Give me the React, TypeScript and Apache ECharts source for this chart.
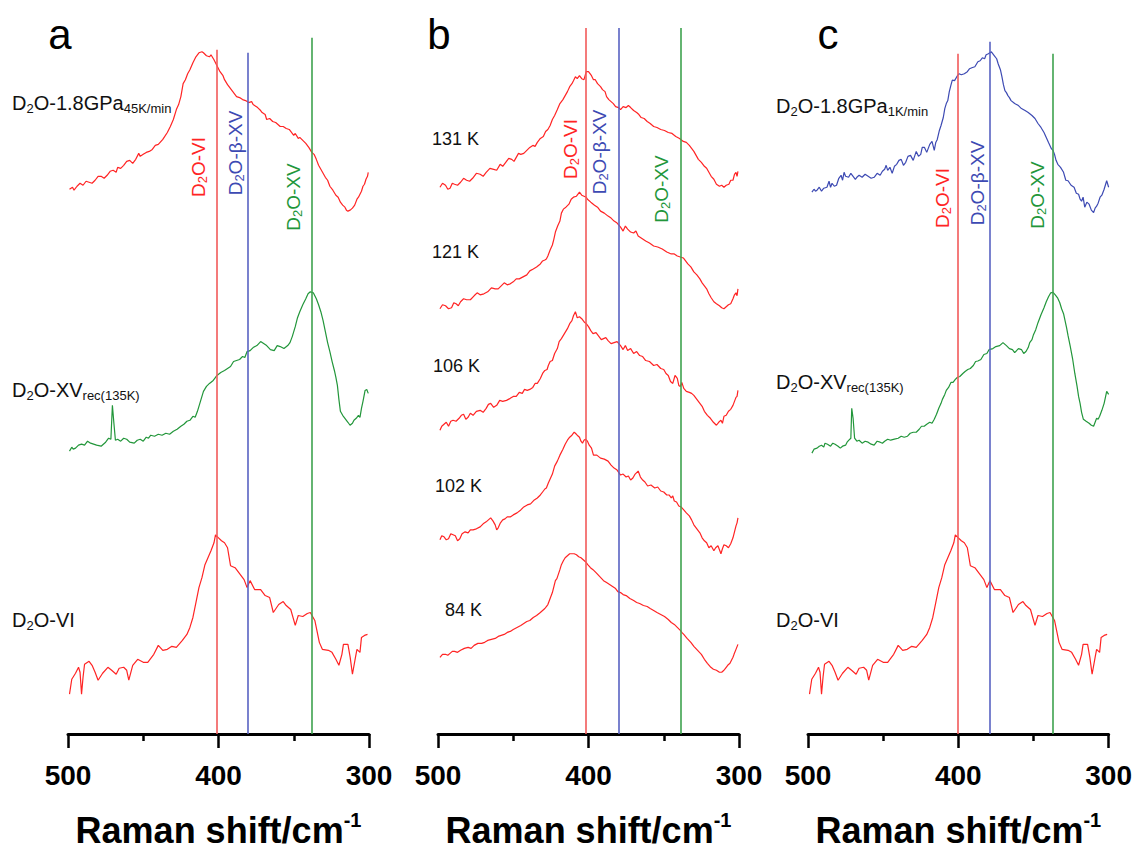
import React, { useEffect, useRef } from "react";
import * as echarts from "echarts";

// Raman shift (cm-1) vs intensity (a.u., stacked with offsets)
const a_GPa45: [number, number][] = [
  [499, 54.7], [497, 54.9], [496, 54.6], [494, 55.0], [492, 55.3], [490, 55.1], [488, 55.5], [486, 55.4],
  [484, 55.3], [482, 55.6], [480, 56.0], [478, 56.0], [476, 55.8], [474, 56.1], [472, 56.5], [470, 56.6],
  [468, 56.4], [467, 56.9], [465, 56.8], [463, 57.1], [461, 57.5], [459, 57.6], [457, 57.3], [455, 57.7],
  [453, 58.3], [452, 58.0], [450, 58.2], [448, 58.4], [446, 58.5], [444, 58.7], [442, 59.1], [440, 59.2],
  [437, 59.7], [434, 60.4], [432, 61.0], [430, 61.7], [428, 62.7], [426.5, 63.2], [425, 64.0], [423.5, 65.3],
  [422, 65.7], [420.5, 66.3], [419, 66.7], [417, 67.4], [415, 68.0], [413, 68.4], [411, 68.5], [410, 68.4],
  [408, 68.1], [406, 68.0], [405, 68.2], [403, 67.7], [401, 67.1], [399, 66.5], [397, 66.1], [396, 65.7],
  [394, 65.2], [391, 64.6], [388, 64.0], [386, 63.9], [384, 63.7], [382, 63.6], [380, 63.4], [378, 63.5],
  [377, 63.2], [375, 63.0], [374, 62.9], [372, 62.6], [371, 62.4], [369, 62.2], [368, 61.7], [366, 61.8],
  [364, 61.5], [362, 61.4], [359, 61.0], [357, 61.0], [355, 60.8], [353, 60.7], [352, 60.5], [350, 60.1],
  [349, 60.3], [347, 59.8], [346, 59.9], [344, 59.6], [342, 59.3], [340, 58.9], [338, 58.4], [336.5, 58.2],
  [335, 57.7], [333.5, 57.1], [332, 56.7], [330.5, 56.3], [329, 55.9], [327.5, 55.6], [326, 55.0],
  [324, 54.6], [322, 54.1], [320.5, 53.9], [319, 53.4], [317.5, 53.1], [316, 52.9], [315, 52.6], [314, 52.5],
  [312.5, 52.6], [311, 52.8], [309.5, 53.1], [308, 53.7], [307, 53.9], [306, 54.2], [305, 54.5], [304, 55.0],
  [303, 55.2], [302, 55.7], [301, 56.0], [300.5, 56.4],
];
const a_XVrec: [number, number][] = [
  [499, 28.4], [497.5, 28.8], [496.5, 28.6], [495, 28.7], [493, 29.0], [491, 29.1], [489, 29.0], [487, 29.4],
  [485, 29.2], [483, 29.1], [481, 29.0], [478, 28.9], [476.5, 29.1], [475, 29.3], [473, 29.7], [471.5, 29.6],
  [470.5, 33.0], [469.5, 31.2], [468.5, 29.5], [467, 29.6], [465, 29.4], [463, 29.7], [461, 29.6], [459, 29.3],
  [456, 29.2], [454, 29.5], [452, 29.6], [450, 29.4], [448, 29.8], [446.5, 29.7], [445, 30.0], [442.5, 29.9],
  [440, 30.1], [437.5, 30.0], [435, 30.2], [432.5, 30.1], [430, 30.4], [427.5, 30.6], [425, 30.9], [423, 31.1],
  [421, 31.4], [419, 31.5], [417, 31.9], [415.5, 31.8], [414, 32.4], [412, 33.4], [410, 34.4], [408, 34.9],
  [406, 35.2], [403.5, 35.5], [401, 36.0], [398.5, 36.3], [396, 36.5], [394, 36.7], [392, 36.9], [390, 37.4],
  [388, 37.5], [386, 37.6], [384, 37.9], [382.5, 37.8], [381, 38.4], [379, 38.5], [377, 38.8], [374.5, 39.0],
  [372, 39.4], [370, 39.2], [368, 39.0], [365.5, 38.6], [363, 38.5], [361, 39.0], [359, 38.9], [356.5, 38.7],
  [354, 39.0], [352.5, 39.3], [351, 39.9], [349, 40.9], [347.5, 41.8], [346, 42.4], [344, 43.1], [342, 43.7],
  [340.5, 44.2], [339, 44.4], [337, 44.3], [335, 43.7], [333.5, 43.1], [332, 42.4], [330.5, 41.5], [329, 40.4],
  [327.5, 39.3], [326, 38.4], [324.5, 37.4], [323, 36.5], [322, 35.8], [321, 35.0], [320, 33.6], [319, 32.4],
  [317.5, 32.0], [316, 31.7], [314, 31.3], [312.6, 31.0], [311, 31.2], [310, 31.5], [308.5, 31.7], [307, 32.0],
  [306, 31.8], [305, 32.7], [304, 33.4], [302.6, 34.5], [301.5, 34.6], [300.5, 34.2],
];
const VI_spec: [number, number][] = [
  [499, 4.0], [497.5, 5.5], [495, 6.1], [493, 6.7], [492, 6.2], [491, 4.0], [490, 5.7], [489, 7.0],
  [486, 7.3], [484, 6.9], [482, 6.2], [480, 5.4], [477, 6.1], [473.5, 6.7], [471, 6.4], [468, 6.0],
  [466, 6.6], [463, 6.7], [461, 6.4], [459.6, 5.4], [457, 6.9], [453.7, 7.5], [450, 7.2], [447, 7.2],
  [443, 8.0], [440, 8.9], [437, 8.4], [434, 8.5], [431, 8.8], [428, 8.7], [424, 9.4], [421, 10.0],
  [419, 10.7], [417, 11.7], [415, 13.2], [413, 14.7], [411, 15.7], [409, 17.0], [407, 17.7], [405, 18.4],
  [403, 19.2], [402, 20.0], [400, 19.7], [398, 19.4], [396, 19.2], [394, 18.7], [392, 16.9], [389, 16.7],
  [385.5, 16.0], [383, 15.5], [381, 14.7], [379, 15.4], [376, 14.5], [372, 14.5], [369, 13.9], [366, 13.7],
  [363.6, 12.2], [360, 13.0], [357, 13.3], [355, 12.9], [352, 12.5], [349, 10.9], [347, 11.9], [344, 11.8],
  [341, 12.1], [339, 12.2], [336, 11.4], [333, 9.2], [331, 8.5], [327, 8.4], [324.6, 8.2], [322, 7.5],
  [320, 6.9], [318, 8.0], [317, 9.0], [314, 9.0], [312.5, 7.7], [311, 6.0], [309, 7.7], [308, 8.5],
  [306, 8.2], [305, 9.7], [303, 9.9], [301, 10.0],
];
const b_131K: [number, number][] = [
  [498.7, 54.9], [497, 55.3], [495, 55.1], [493.5, 54.7], [492, 54.8], [490.5, 55.3], [489, 55.2], [487, 55.1],
  [485, 55.4], [483, 55.8], [481, 55.6], [479, 55.5], [477, 55.8], [474.5, 56.3], [472, 56.2], [470, 56.0],
  [468, 56.4], [465.5, 56.8], [463, 56.7], [461, 56.6], [458.7, 57.2], [457, 57.0], [455, 57.4], [453, 57.8],
  [451, 57.7], [449.5, 57.5], [448, 57.9], [446.5, 58.3], [445, 58.2], [443, 58.3], [441, 58.6], [439, 58.9],
  [437, 59.1], [435.5, 59.0], [434, 59.4], [432, 59.8], [430, 60.0], [428.5, 60.5], [427, 60.7], [425.5, 61.1],
  [424, 61.7], [422.5, 62.1], [420.7, 62.7], [419, 63.3], [417, 63.7], [415.5, 64.1], [414, 64.5], [412.5, 65.0],
  [411, 65.3], [410, 65.6], [408.7, 66.0], [407.5, 65.8], [406, 66.1], [404.5, 65.8], [403, 65.7], [401.5, 66.5],
  [400, 66.5], [398, 66.1], [396.7, 65.7], [395.5, 65.7], [394, 65.3], [392, 65.0], [390.7, 64.7], [389, 64.5],
  [388, 64.0], [386.5, 63.7], [385, 63.5], [383.5, 63.3], [382, 63.0], [380, 62.9], [378.7, 62.7], [377, 63.0],
  [375, 62.9], [373.5, 63.1], [372, 62.9], [370, 62.6], [368, 62.4], [366.5, 62.2], [365, 61.9], [363, 61.8],
  [361, 61.5], [359, 61.3], [356.7, 61.0], [354.5, 60.9], [352, 60.7], [349.5, 60.6], [347, 60.4], [344.5, 60.3],
  [342, 60.0], [339.5, 59.8], [337, 59.5], [335, 59.4], [333, 59.1], [331.5, 58.8], [330, 58.5], [328.5, 58.1],
  [327, 57.7], [325, 57.4], [323, 57.0], [321.5, 56.8], [320, 56.4], [318.5, 56.0], [316.7, 55.7], [315, 55.2],
  [313, 55.0], [311.5, 55.1], [310, 54.9], [308.5, 55.1], [306.7, 55.2], [305.5, 55.6], [304, 55.6], [303, 56.2],
  [302, 56.4], [301.3, 56.0], [300.7, 56.5],
];
const b_121K: [number, number][] = [
  [498.7, 42.7], [497, 43.1], [495, 43.0], [493, 42.7], [491, 42.8], [489.5, 43.3], [488, 43.2], [486.5, 43.0],
  [485, 43.4], [483, 43.7], [481, 43.6], [478.5, 43.6], [476, 44.0], [474, 44.3], [472, 44.1], [469.5, 44.2],
  [467, 44.4], [464.5, 44.8], [462, 44.7], [460, 44.7], [458, 45.0], [456, 45.3], [454, 45.1], [452, 45.2],
  [450, 45.4], [448, 45.7], [446, 45.7], [443.5, 45.9], [441, 46.1], [439, 46.5], [436.7, 46.7], [434.5, 46.9],
  [432, 47.2], [430.5, 47.5], [429, 47.6], [428, 47.7], [427, 48.0], [425.5, 48.6], [424, 49.1], [423, 49.7],
  [422, 50.4], [420.5, 51.0], [419, 51.5], [418, 52.3], [416.7, 52.7], [415, 52.9], [413, 53.2], [411.5, 53.7],
  [410, 53.9], [408, 54.0], [406, 54.4], [404.5, 54.1], [403, 54.0], [401.5, 53.9], [400.7, 53.7], [398.5, 53.4],
  [396, 53.1], [394, 52.9], [392, 52.5], [389.5, 52.3], [387, 52.0], [385, 51.8], [383, 51.5], [381, 51.3],
  [378.7, 50.9], [377, 50.5], [375.5, 51.0], [374, 50.7], [372, 50.4], [370, 50.3], [368.5, 50.5], [367, 50.0],
  [365, 49.8], [362, 49.5], [359.5, 49.3], [356.7, 49.0], [354, 48.9], [351, 48.7], [348, 48.4], [345, 48.2],
  [343, 48.2], [341, 48.0], [339, 47.9], [337, 47.8], [335.5, 47.5], [334, 47.2], [332, 46.9], [330, 46.4],
  [328, 46.1], [326, 45.7], [324.5, 45.3], [323, 45.0], [321.5, 44.7], [320, 44.2], [318.5, 43.8], [316.7, 43.4],
  [315, 43.2], [313, 43.0], [311.5, 42.8], [310, 42.7], [308.5, 42.9], [307, 43.1], [305.5, 43.2], [304, 43.7],
  [303, 44.1], [302, 44.3], [301.3, 44.0], [300.7, 44.7],
];
const b_106K: [number, number][] = [
  [498.7, 30.5], [497.5, 30.9], [496, 31.1], [494.5, 31.3], [493, 30.9], [491.5, 31.4], [490, 31.5], [488, 31.4],
  [486, 31.7], [484.5, 32.0], [483, 32.1], [481.5, 31.6], [480, 31.8], [478.5, 32.2], [476.7, 32.0], [474.5, 32.4],
  [472, 32.5], [470, 32.3], [468, 32.7], [466.5, 33.1], [465, 33.2], [463, 32.8], [461, 33.0], [459, 33.5],
  [457, 33.4], [454.5, 33.5], [452, 33.7], [450, 33.9], [448, 33.9], [446, 34.3], [444, 34.2], [442.5, 34.6],
  [440.7, 34.5], [439, 34.6], [437, 34.8], [435.5, 35.2], [434, 35.2], [432, 35.7], [430.5, 36.2], [429, 36.5],
  [427.5, 36.6], [426.7, 37.0], [425.5, 37.4], [424, 37.5], [422.5, 38.2], [420.7, 38.7], [419.5, 39.4],
  [418, 39.7], [416, 40.2], [414, 40.7], [412.5, 41.2], [411, 41.5], [410, 42.0], [408.7, 42.4], [407.5, 41.8],
  [406, 41.9], [404.5, 41.7], [403, 41.4], [401.5, 41.2], [400, 40.9], [398.5, 40.5], [397, 40.2], [395, 40.3],
  [393, 39.9], [391.5, 39.6], [390, 39.7], [388.5, 39.8], [387, 39.5], [385, 39.2], [383, 39.3], [381, 39.4],
  [378.7, 39.0], [377, 38.6], [375.5, 39.0], [374, 38.5], [372, 38.7], [370, 38.2], [368, 38.4], [366, 38.0],
  [364, 37.9], [362, 37.5], [359.5, 37.4], [356.7, 37.0], [354.5, 37.1], [352, 36.7], [350, 36.6], [348.5, 36.2],
  [347, 36.0], [345.5, 35.4], [344, 35.2], [342.5, 36.0], [341, 35.7], [340, 35.0], [339, 34.9], [338, 35.3],
  [336.7, 34.7], [335, 34.4], [333, 34.3], [331.5, 34.2], [330, 34.0], [328, 33.6], [326, 33.2], [324.5, 32.9],
  [323, 32.4], [321, 32.0], [319, 31.7], [317, 31.3], [315, 31.0], [313.5, 31.3], [312, 31.5], [311, 31.2],
  [310, 31.9], [308.5, 32.0], [307, 32.4], [305.5, 32.6], [304, 33.0], [303, 33.4], [302, 33.8], [301.3, 33.9],
  [300.7, 34.5],
];
const b_102K: [number, number][] = [
  [498.7, 19.5], [497.5, 19.9], [496, 19.8], [494.5, 19.5], [493, 19.6], [491.5, 20.1], [490, 20.0], [488.5, 19.9],
  [487, 19.4], [485.5, 19.6], [484, 20.1], [482, 20.3], [480, 20.2], [478.5, 20.5], [476.7, 20.5], [474.5, 20.6],
  [472, 20.8], [470, 21.1], [468, 21.3], [466.5, 21.5], [465, 21.7], [463.5, 21.4], [462, 21.0], [461, 20.5],
  [460, 20.7], [458.5, 21.2], [457, 21.5], [455.5, 21.6], [454, 21.8], [452, 21.8], [450, 22.0], [447.5, 22.2],
  [445, 22.5], [443, 22.8], [440.7, 23.0], [438.5, 23.1], [436, 23.5], [434, 23.7], [432, 24.0], [430.5, 24.3],
  [429, 24.6], [428, 24.7], [426.7, 25.2], [425.5, 25.6], [424, 26.1], [422.5, 26.9], [420.7, 27.4], [419, 28.0],
  [417, 28.6], [415.5, 29.1], [414, 29.5], [412.5, 29.8], [411, 30.0], [409.5, 30.3], [408.7, 30.2], [407.5, 30.0],
  [406, 29.8], [405, 29.4], [404, 29.2], [403, 29.5], [402, 29.6], [400.7, 29.4], [399.5, 29.0], [398, 28.7],
  [396.7, 28.0], [394.5, 28.0], [392, 27.7], [389.5, 27.6], [387, 27.4], [385, 27.0], [383, 26.7], [381, 26.5],
  [378.7, 26.0], [377, 26.1], [375, 25.8], [373.5, 25.9], [372, 25.5], [370.5, 25.7], [369, 26.1], [367, 26.4],
  [365.5, 25.8], [364, 25.5], [362.5, 25.3], [360.7, 24.9], [358.5, 25.0], [356, 24.7], [354, 24.8], [352, 24.4],
  [350, 24.3], [348, 24.0], [346.5, 24.0], [345, 23.7], [344, 23.9], [343, 23.4], [341.5, 23.3], [340, 22.9],
  [338.5, 22.8], [336.7, 22.5], [335, 22.2], [333, 21.9], [331.5, 21.5], [330, 21.0], [328, 20.6], [326, 20.2],
  [324.5, 19.7], [323, 19.4], [321.5, 19.2], [320, 18.7], [318.5, 18.9], [316.7, 18.4], [315.5, 18.7], [314, 18.9],
  [313, 18.5], [312, 18.1], [311, 18.6], [310, 19.0], [308.5, 18.9], [307, 18.7], [305.5, 19.1], [304, 19.7],
  [303, 20.3], [302, 20.9], [301.3, 21.2], [300.7, 21.7],
];
const b_84K: [number, number][] = [
  [498.7, 7.7], [497, 8.0], [495, 8.0], [493.5, 7.9], [492, 8.1], [490.5, 8.3], [489, 8.3], [487, 8.2],
  [485, 8.4], [482.5, 8.6], [480, 8.7], [478, 8.6], [476, 8.9], [473.5, 9.1], [471, 9.1], [469, 9.2],
  [467, 9.4], [464.5, 9.5], [462, 9.6], [460, 9.8], [458, 9.9], [456, 10.0], [454, 10.2], [452, 10.3],
  [450, 10.5], [447.5, 10.7], [445, 10.9], [443, 11.1], [441, 11.3], [439, 11.4], [436.7, 11.7], [434.5, 11.9],
  [432, 12.2], [430.5, 12.4], [429, 12.6], [428, 12.8], [427, 13.0], [425.5, 13.6], [424, 14.2], [423, 14.8],
  [422, 15.4], [421, 15.6], [419, 16.5], [418, 17.0], [416.7, 17.4], [415.5, 17.7], [414, 17.9], [412.5, 18.1],
  [410.7, 18.1], [409.5, 18.1], [408, 18.0], [406.5, 17.8], [405, 17.7], [403.5, 17.5], [402, 17.3], [400.5, 17.0],
  [398.7, 16.7], [397, 16.5], [395, 16.2], [392.5, 15.8], [390, 15.4], [388, 15.2], [386, 15.0], [384, 14.8],
  [382, 14.6], [380.5, 14.3], [378.7, 14.2], [377, 14.0], [375, 13.9], [372.5, 13.6], [370, 13.4], [368, 13.2],
  [366, 13.1], [363.5, 12.9], [361, 12.8], [359, 12.6], [356.7, 12.4], [354.5, 12.2], [352, 12.0], [349.5, 11.8],
  [347, 11.5], [345, 11.2], [343, 11.0], [341, 10.7], [339, 10.4], [338, 10.2], [336.7, 10.0], [334.5, 9.6],
  [332, 9.2], [330, 8.8], [327.5, 8.4], [325, 8.0], [323, 7.5], [321, 7.1], [318.7, 6.7], [317, 6.5],
  [315, 6.4], [314, 6.3], [313, 6.2], [311.5, 6.2], [310, 6.4], [309, 6.6], [307.5, 6.9], [306, 7.1],
  [305, 7.4], [304, 7.7], [303.3, 8.0], [302, 8.5], [300.7, 9.0],
];
const c_GPa1: [number, number][] = [
  [497.4, 54.4], [496, 54.7], [495, 54.5], [494, 54.6], [492.5, 54.9], [491, 54.5], [489.5, 54.8], [487.4, 54.9],
  [486, 55.5], [485, 54.9], [484, 55.3], [482.5, 55.0], [481, 55.1], [479.5, 55.8], [478, 56.1], [477, 55.6],
  [476, 56.4], [475, 56.0], [473, 55.9], [471.5, 56.3], [470, 56.0], [468.5, 55.7], [467.5, 55.9], [466, 56.1],
  [464, 55.9], [462, 56.2], [460, 56.0], [458, 55.8], [456, 55.9], [454, 56.3], [452, 56.1], [450.5, 56.5],
  [449, 56.7], [448, 57.1], [447, 56.6], [445.5, 56.9], [444, 56.3], [442.5, 57.0], [441, 57.2], [439.5, 57.6],
  [438, 57.7], [436.5, 57.1], [435, 57.4], [433.5, 58.0], [431.8, 58.1], [430, 57.6], [428, 58.5], [426.5, 58.0],
  [425, 58.2], [424, 58.9], [422.5, 58.9], [421, 58.4], [419, 59.2], [417.5, 59.5], [416, 58.6], [415, 59.4],
  [414, 59.7], [412.6, 60.6], [411.5, 61.1], [410, 61.9], [409, 62.8], [408, 63.3], [407, 63.6], [406, 64.5],
  [405, 65.1], [404, 65.65], [402.5, 65.6], [401, 66.0], [399.5, 66.3], [398, 66.2], [396, 66.3], [394, 66.5],
  [392.5, 66.8], [391, 66.9], [389, 67.0], [387, 67.5], [385.5, 67.6], [384, 67.9], [382.5, 67.8], [381.5, 68.2],
  [380, 68.3], [378, 68.5], [376, 68.1], [374.5, 67.8], [373.5, 67.3], [372, 66.7], [371, 66.0], [370, 65.2],
  [369, 64.6], [368, 64.4], [367, 64.1], [366, 63.9], [364.9, 63.6], [362.5, 63.3], [360, 63.1], [358, 62.8],
  [355.6, 62.6], [353.5, 62.4], [351, 62.1], [349, 61.8], [347, 61.3], [345, 60.9], [343, 60.4], [341.5, 59.9],
  [340, 59.4], [338, 58.75], [337, 58.6], [336, 58.2], [335, 57.6], [333.8, 57.2], [332, 56.9], [330, 56.4],
  [328.5, 55.6], [327, 55.55], [325, 55.1], [323, 54.9], [321.5, 54.3], [320, 54.2], [319, 53.7], [318, 53.5],
  [317, 53.9], [315.9, 52.9], [314.5, 53.4], [313, 53.2], [311.5, 52.6], [310, 52.35], [309, 52.8], [308, 53.0],
  [307, 53.3], [305.7, 53.9], [304.5, 54.1], [303, 54.7], [302, 55.2], [301.3, 55.55], [300, 54.9],
];
const c_XVrec: [number, number][] = [
  [497.4, 28.2], [496, 28.6], [494, 28.7], [492.5, 28.9], [491, 29.0], [489.5, 28.8], [488.7, 29.2], [487, 29.1],
  [485, 28.9], [483.5, 29.2], [482, 29.1], [480, 28.9], [478.5, 28.7], [477, 28.9], [475, 29.0], [474, 29.3],
  [472.8, 29.5], [471.5, 29.7], [470.9, 32.7], [470, 31.7], [469, 29.7], [467.5, 29.4], [466, 29.5], [464, 29.2],
  [462, 29.4], [460, 29.3], [458, 29.1], [456, 29.0], [454, 29.4], [452, 29.3], [450.5, 29.2], [449, 29.4],
  [447, 29.6], [445, 29.5], [442.5, 29.6], [440, 29.7], [438, 29.9], [436, 29.8], [433.8, 29.9], [432, 30.2],
  [430, 30.3], [428, 30.3], [426, 30.6], [424.5, 30.9], [422.7, 30.9], [421, 31.1], [419, 31.3], [417.5, 31.2],
  [416, 31.6], [414.5, 32.1], [413, 32.7], [411.5, 33.2], [410.6, 33.6], [409, 34.1], [408, 34.5], [406.5, 34.8],
  [404.9, 35.3], [403.5, 35.3], [402, 35.6], [400.7, 35.8], [399, 35.9], [397, 36.2], [395.5, 36.4], [393.7, 36.6],
  [392, 36.7], [390, 37.0], [388.5, 37.4], [387, 37.45], [385, 37.6], [383, 38.1], [381, 38.2], [379.5, 38.6],
  [377, 38.7], [375, 38.9], [372.5, 39.0], [370.3, 39.3], [368, 39.0], [366, 38.7], [364, 38.6], [362.5, 38.3],
  [360, 38.7], [358, 38.6], [356.5, 38.2], [355, 38.4], [353.5, 38.8], [352.5, 39.3], [351, 39.6], [350, 40.1],
  [348.5, 40.6], [347, 41.3], [345, 42.1], [343, 42.8], [341.5, 43.4], [340, 43.9], [338.5, 44.3], [337, 44.35],
  [335.5, 44.1], [334, 43.8], [332.5, 43.3], [331.3, 42.7], [330, 42.2], [329, 41.5], [328, 40.8], [327, 40.0],
  [325.5, 38.9], [324, 37.7], [322.5, 36.2], [321, 34.9], [320, 33.9], [319, 33.2], [318, 32.3], [316.8, 31.6],
  [315, 31.4], [313, 31.2], [311.5, 31.0], [310, 30.9], [309, 31.3], [308, 31.7], [307, 31.6], [306, 31.9],
  [304.5, 32.5], [303, 33.2], [302, 33.9], [301.3, 34.4], [300, 34.1],
];

// Reference band positions (cm-1) per panel: D2O-VI, D2O-β-XV, D2O-XV
const bandsA = [401, 380.5, 338];
const bandsB = [402, 380, 339];
const bandsC = [400.5, 379, 337.5];
const bandTopsA = [68.7, 68.4, 69.9];
const bandTopsB = [70.9, 70.9, 70.9];
const bandTopsC = [68.3, 69.5, 68.3];

const xTicks = [500, 400, 300];

const FONT = "'Liberation Sans', Arial, Helvetica, sans-serif";
const RED = "#ff2424";
const GREEN = "#22963a";
const BLUE = "#3d4ab3";
const LRED = "#f25a5a";
const LBLUE = "#5862c2";
const LGREEN = "#3ea24e";

const grids = [
  { left: 68, width: 301 },
  { left: 438, width: 301 },
  { left: 808, width: 302 },
];

function markLines(bands: number[], tops: number[]) {
  const cols = [LRED, LBLUE, LGREEN];
  return {
    silent: true,
    symbol: ["none", "none"],
    label: { show: false },
    animation: false,
    data: bands.map((b, i) => [
      { coord: [b, tops[i]], lineStyle: { color: cols[i], width: 1.6, type: "solid" } },
      { coord: [b, 0] },
    ]),
  };
}

function spectrum(data: [number, number][], idx: number, color: string, ml?: any) {
  return {
    type: "line",
    xAxisIndex: idx,
    yAxisIndex: idx,
    data,
    showSymbol: false,
    symbol: "none",
    lineStyle: { color, width: 1.2 },
    itemStyle: { color },
    z: 3,
    markLine: ml,
  };
}

function sampleLabel(x: number, y: number, main: string, sub: string, rest = "") {
  const text = `{n|${main}}{s|2}{n|O-${rest}}` + (sub ? `{t|${sub}}` : "");
  return {
    type: "text",
    x,
    y,
    style: {
      text,
      align: "left",
      verticalAlign: "middle",
      fill: "#111",
      rich: {
        n: { fontSize: 20, lineHeight: 24, fontFamily: FONT, fill: "#111" },
        s: { fontSize: 13, lineHeight: 12, verticalAlign: "bottom", fontFamily: FONT, fill: "#111" },
        t: { fontSize: 13, lineHeight: 12, verticalAlign: "bottom", fontFamily: FONT, fill: "#111" },
      },
    },
  };
}

function bandLabel(x: number, y: number, rest: string, color: string) {
  return {
    type: "text",
    x,
    y,
    rotation: Math.PI / 2,
    style: {
      text: `{n|D}{s|2}{n|O-${rest}}`,
      align: "center",
      verticalAlign: "middle",
      fill: color,
      rich: {
        n: { fontSize: 19, lineHeight: 22, fontFamily: FONT, fill: color },
        s: { fontSize: 13, lineHeight: 11, verticalAlign: "bottom", fontFamily: FONT, fill: color },
      },
    },
  };
}

function plainText(x: number, y: number, text: string, size: number) {
  return {
    type: "text",
    x,
    y,
    style: { text, fontSize: size, fontFamily: FONT, fill: "#111", align: "left", verticalAlign: "middle" },
  };
}

function letter(x: number, y: number, text: string) {
  return {
    type: "text",
    x,
    y,
    style: { text, fontSize: 42, fontFamily: FONT, fill: "#000", align: "center", verticalAlign: "middle" },
  };
}

export default function App() {
  const ref = useRef<HTMLDivElement>(null);
  useEffect(() => {
    if (!ref.current) return;
    const chart = echarts.init(ref.current, undefined, { renderer: "svg" });
    const xAxes = grids.map((_, i) => ({
      gridIndex: i,
      type: "value",
      min: 300,
      max: 500,
      interval: 100,
      inverse: true,
      axisLine: { show: true, onZero: false, lineStyle: { color: "#000", width: 3 } },
      axisTick: { show: true, length: 14, lineStyle: { color: "#000", width: 2.5 } },
      minorTick: { show: true, splitNumber: 2, length: 7, lineStyle: { color: "#000", width: 2.5 } },
      splitLine: { show: false },
      minorSplitLine: { show: false },
      axisLabel: {
        fontSize: 28,
        fontWeight: "bold",
        color: "#000",
        margin: 27,
        fontFamily: FONT,
        formatter: (v: number) => (xTicks.includes(v) ? String(v) : ""),
      },
      name: "{m|Raman shift/cm}{s|-1}",
      nameLocation: "middle",
      nameGap: 76,
      nameTextStyle: {
        rich: {
          m: { fontSize: 36, fontWeight: "bold", fontFamily: FONT, color: "#000", lineHeight: 40 },
          s: { fontSize: 20, fontWeight: "bold", fontFamily: FONT, color: "#000", lineHeight: 20, verticalAlign: "top" },
        },
      },
    }));
    const yAxes = grids.map((_, i) => ({
      gridIndex: i,
      type: "value",
      min: 0,
      max: 73.7,
      show: false,
      splitLine: { show: false },
    }));
    const option: any = {
      animation: false,
      backgroundColor: "#fff",
      grid: grids.map((g) => ({ left: g.left, width: g.width, top: 0, bottom: 116, containLabel: false })),
      xAxis: xAxes,
      yAxis: yAxes,
      series: [
        spectrum(a_GPa45, 0, RED, markLines(bandsA, bandTopsA)),
        spectrum(a_XVrec, 0, GREEN),
        spectrum(VI_spec, 0, RED),
        spectrum(b_131K, 1, RED, markLines(bandsB, bandTopsB)),
        spectrum(b_121K, 1, RED),
        spectrum(b_106K, 1, RED),
        spectrum(b_102K, 1, RED),
        spectrum(b_84K, 1, RED),
        spectrum(c_GPa1, 2, BLUE, markLines(bandsC, bandTopsC)),
        spectrum(c_XVrec, 2, GREEN),
        spectrum(VI_spec, 2, RED),
      ],
      graphic: [
        letter(60, 34, "a"),
        letter(439, 34, "b"),
        letter(828, 34, "c"),
        sampleLabel(12, 103, "D", "45K/min", "1.8GPa"),
        sampleLabel(12, 390, "D", "rec(135K)", "XV"),
        sampleLabel(12, 620, "D", "", "VI"),
        sampleLabel(776, 106, "D", "1K/min", "1.8GPa"),
        sampleLabel(776, 382, "D", "rec(135K)", "XV"),
        sampleLabel(776, 620, "D", "", "VI"),
        plainText(432, 139, "131 K", 18),
        plainText(432, 252, "121 K", 18),
        plainText(433, 366, "106 K", 18),
        plainText(435, 486, "102 K", 18),
        plainText(445, 610, "84 K", 18),
        bandLabel(198, 167, "VI", RED),
        bandLabel(235, 153, "β-XV", BLUE),
        bandLabel(293, 197, "XV", GREEN),
        bandLabel(570, 149, "VI", RED),
        bandLabel(599, 152, "β-XV", BLUE),
        bandLabel(661, 189, "XV", GREEN),
        bandLabel(942, 198, "VI", RED),
        bandLabel(977, 183, "β-XV", BLUE),
        bandLabel(1037, 195, "XV", GREEN),
      ],
    };
    chart.setOption(option);
    return () => chart.dispose();
  }, []);
  return (
    <div
      ref={ref}
      style={{ position: "fixed", left: 0, top: 0, width: 1135, height: 853, background: "#fff" }}
    />
  );
}
